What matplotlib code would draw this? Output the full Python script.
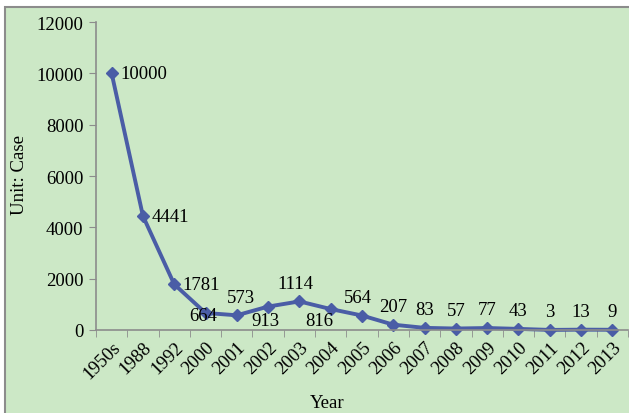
import matplotlib.pyplot as plt
from matplotlib.patches import Rectangle

years = ["1950s", "1988", "1992", "2000", "2001", "2002", "2003", "2004", "2005",
         "2006", "2007", "2008", "2009", "2010", "2011", "2012", "2013"]
cases = [10000, 4441, 1781, 664, 573, 913, 1114, 816, 564, 207, 83, 57, 77, 43, 3, 13, 9]
# where each value label sits relative to its point: (dx pts, dy pts, ha, va)
label_pos = {0: (6, 0, "left", "center"), 1: (6, 0, "left", "center"),
             2: (6, 0, "left", "center"), 3: (-2, -2, "center", "center"),
             4: (3, 7, "center", "bottom"), 5: (-2, -4, "center", "top"),
             6: (-3, 7, "center", "bottom"), 7: (-8, -2, "center", "top"),
             8: (-3, 7, "center", "bottom")}

plt.rcParams["font.family"] = "Liberation Serif"
fs = 13.5

green = "#cce8c6"
blue = "#4a5da6"

fig = plt.figure(figsize=(6.29, 4.14), dpi=100)
fig.patch.set_facecolor("white")
W, H = 629, 414
fig.patches.append(Rectangle((5 / W, -0.1), 1.2, (H - 8) / H + 0.1,
                             transform=fig.transFigure, facecolor=green,
                             edgecolor="#8c8c8c", linewidth=1.5, zorder=-5))

ax = fig.add_axes([96 / W, 1 - 331 / H, 532 / W, 308 / H])
ax.set_facecolor(green)
x = list(range(len(years)))
ax.plot(x, cases, color=blue, linewidth=2.8, marker="D", markersize=6.5, clip_on=False)

ax.set_xlim(-0.5, len(years) - 0.5)
ax.set_ylim(0, 12000)
ax.set_yticks(range(0, 12001, 2000))
ax.set_xticks(x)
ax.set_xticklabels(years, rotation=45, ha="right", va="top", rotation_mode="anchor")
ax.set_xticks([i - 0.5 for i in range(len(years) + 1)], minor=True)
ax.tick_params(axis="x", which="major", length=0, pad=6, labelsize=fs)
ax.tick_params(axis="x", which="minor", length=5, color="#8c8c8c", direction="out")
ax.tick_params(axis="y", length=5, color="#8c8c8c", pad=4, labelsize=fs)

for s in ["top", "right"]:
    ax.spines[s].set_visible(False)
for s in ["left", "bottom"]:
    ax.spines[s].set_color("#8c8c8c")
    ax.spines[s].set_linewidth(1.2)

for i, v in enumerate(cases):
    dx, dy, ha, va = label_pos.get(i, (0, 7, "center", "bottom"))
    ax.annotate(str(v), (i, v), xytext=(dx, dy), textcoords="offset points",
                ha=ha, va=va, fontsize=fs)

fig.text(19 / W, 1 - 175 / H, "Unit: Case", rotation=90, ha="center", va="center", fontsize=fs)
fig.text(327 / W, 1 - 404 / H, "Year", ha="center", va="center", fontsize=fs)

fig.savefig("out.png", dpi=100, facecolor=fig.get_facecolor())
